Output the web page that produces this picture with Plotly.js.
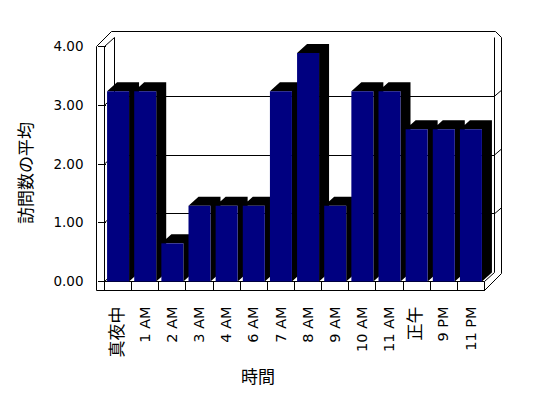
<!DOCTYPE html>
<html><head><meta charset="utf-8">
<script src="https://cdn.plot.ly/plotly-3.0.1.min.js"></script>
<style>html,body{margin:0;padding:0;background:#fff}</style>
</head><body><div id="chart" style="width:548px;height:398px"></div>
<script>
// ---- data ----
const categories = ["真夜中","1 AM","2 AM","3 AM","4 AM","6 AM","7 AM","8 AM","9 AM","10 AM","11 AM","正午","9 PM","11 PM"];
const avgVisits = [3.24,3.24,0.65,1.29,1.29,1.29,3.24,3.89,1.29,3.24,3.24,2.59,2.59,2.59];
const yTickValues = [0,1,2,3,4];
const yAxisTitle = "訪問数の平均";
const xAxisTitle = "時間";

// ---- geometry ----
const W = 548, H = 398;
const CAT_L = 104.5, CAT_W = 380 / 14;
const Y0 = 281.5, UNIT = 58.75;
const DXP = 10, DYP = 9;
const DX = DXP / CAT_W, DY = DYP / UNIT, BW = 22 / CAT_W;
const XR = [-CAT_L / CAT_W - 0.5, (W - CAT_L) / CAT_W - 0.5];
const YR = [(Y0 - H) / UNIT, Y0 / UNIT];
const FONT = "DejaVu Sans, Noto Sans CJK JP, sans-serif";
const CJK = "Noto Sans CJK JP, sans-serif";

const centers = categories.map((_, i) => i);
const bounds = categories.map((_, i) => i - 0.5).concat([categories.length - 0.5]);
const tickLabels = categories.map(c => /[^\x00-\x7F]/.test(c) ? '<span style="font-size:17px">' + c + '</span>' : c);

// black top + side faces of each column
const sx = [], sy = [];
avgVisits.forEach((v, i) => {
  const l = i - BW / 2, r = i + BW / 2;
  sx.push(l, l + DX, r + DX, r + DX, r, r, null);
  sy.push(v, v + DY, v + DY, DY, 0, v, null);
});

// ---- frame helpers (pixel -> paper) ----
const fx = p => p / W, fy = p => 1 - p / H;
function seg(x0, y0, x1, y1) {
  return {type: 'line', xref: 'paper', yref: 'paper', x0: fx(x0), y0: fy(y0), x1: fx(x1), y1: fy(y1),
          line: {color: '#000', width: 1}, layer: 'below'};
}
const frontY = v => Y0 - v * UNIT;
const shapes = [
  seg(96.5, 46.5, 96.5, 290.5),      // left wall front outer edge
  seg(104.5, 46.5, 104.5, 281.5),    // left wall front inner edge
  seg(96.5, 46.5, 111.5, 31.5),      // left wall top outer diagonal
  seg(104.5, 46.5, 114.5, 37.5),     // left wall top inner diagonal
  seg(114.5, 37.5, 114.5, 272.5),    // back wall left edge
  seg(111.5, 31.5, 495.5, 31.5),     // outer top
  seg(495.5, 31.5, 501.5, 37.5),
  seg(501.5, 37.5, 501.5, 273.5),    // outer right
  seg(494.5, 37.5, 494.5, 272.5),    // back wall right edge
  seg(104.5, 281.5, 484.5, 281.5),   // floor front top
  seg(96.5, 290.5, 484.5, 290.5),    // floor front bottom
  seg(484.5, 281.5, 484.5, 290.5),
  seg(484.5, 290.5, 501.5, 273.5),   // floor right diagonal
  seg(484.5, 281.5, 494.5, 272.5)
];
yTickValues.slice(0, 4).forEach(v => {
  shapes.push(seg(104.5, frontY(v), 114.5, frontY(v) - DYP));
  if (v > 0) shapes.push(seg(494.5, frontY(v) - DYP, 501.5, frontY(v) - DYP - 6));
});

const traces = [
  {type: 'scatter', x: [], y: [], xaxis: 'x', yaxis: 'y', hoverinfo: 'skip', showlegend: false},
  {type: 'scatter', mode: 'lines', x: sx, y: sy, fill: 'toself', fillcolor: '#000000',
   line: {color: '#000000', width: 0}, xaxis: 'x2', yaxis: 'y2', hoverinfo: 'skip', showlegend: false},
  {type: 'bar', x: centers, y: avgVisits, width: BW, marker: {color: '#000080', line: {width: 0}},
   xaxis: 'x3', yaxis: 'y3', hoverinfo: 'skip', showlegend: false}
];

const layout = {
  width: W, height: H, margin: {l: 0, r: 0, t: 0, b: 0},
  paper_bgcolor: '#ffffff', plot_bgcolor: 'rgba(0,0,0,0)', showlegend: false,
  font: {family: FONT, size: 13.5, color: '#000'},
  xaxis: {domain: [114.5 / W, 494.5 / W], range: [-0.5, 13.5], showgrid: false, zeroline: false,
          showticklabels: false, ticks: '', showline: false},
  yaxis: {domain: [(H - 272.5) / H, (H - 37.5) / H], range: [0, 4], tickmode: 'array', tickvals: yTickValues.slice(1),
          showgrid: true, gridcolor: '#000', gridwidth: 1, zeroline: false, showticklabels: false, ticks: '', showline: false},
  xaxis2: {domain: [0, 1], range: XR, anchor: 'free', position: (H - 290.5) / H, tickmode: 'array', tickvals: bounds,
           ticks: 'inside', ticklen: 9, tickcolor: '#000', tickwidth: 1, showticklabels: false,
           showgrid: false, zeroline: false, showline: false},
  yaxis2: {domain: [0, 1], range: YR, anchor: 'x2', visible: false},
  xaxis3: {domain: [0, 1], range: XR, anchor: 'free', position: (H - 290.5) / H, tickmode: 'array',
           tickvals: centers, ticktext: tickLabels, tickangle: -90, ticks: '', showgrid: false, zeroline: false,
           showline: false, ticklabelstandoff: 12, tickfont: {family: FONT, size: 14.5, color: '#000'}},
  yaxis3: {domain: [0, 1], range: YR, anchor: 'free', position: 96.5 / W, tickmode: 'array', tickvals: yTickValues,
           tickformat: '.2f', ticks: 'inside', ticklen: 8, tickcolor: '#000', tickwidth: 1, showgrid: false,
           zeroline: false, showline: false, ticklabelstandoff: 13, tickfont: {family: FONT, size: 13.5, color: '#000'}},
  shapes: shapes,
  annotations: [
    {text: yAxisTitle, xref: 'paper', yref: 'paper', x: 24 / W, y: fy(173), xanchor: 'center', yanchor: 'middle',
     showarrow: false, textangle: -90, font: {family: CJK, size: 17, color: '#000'}},
    {text: xAxisTitle, xref: 'paper', yref: 'paper', x: 258 / W, y: fy(375), xanchor: 'center', yanchor: 'middle',
     showarrow: false, font: {family: CJK, size: 17, color: '#000'}}
  ]
};

Plotly.newPlot('chart', traces, layout, {staticPlot: true, displayModeBar: false});
</script>
</body></html>
